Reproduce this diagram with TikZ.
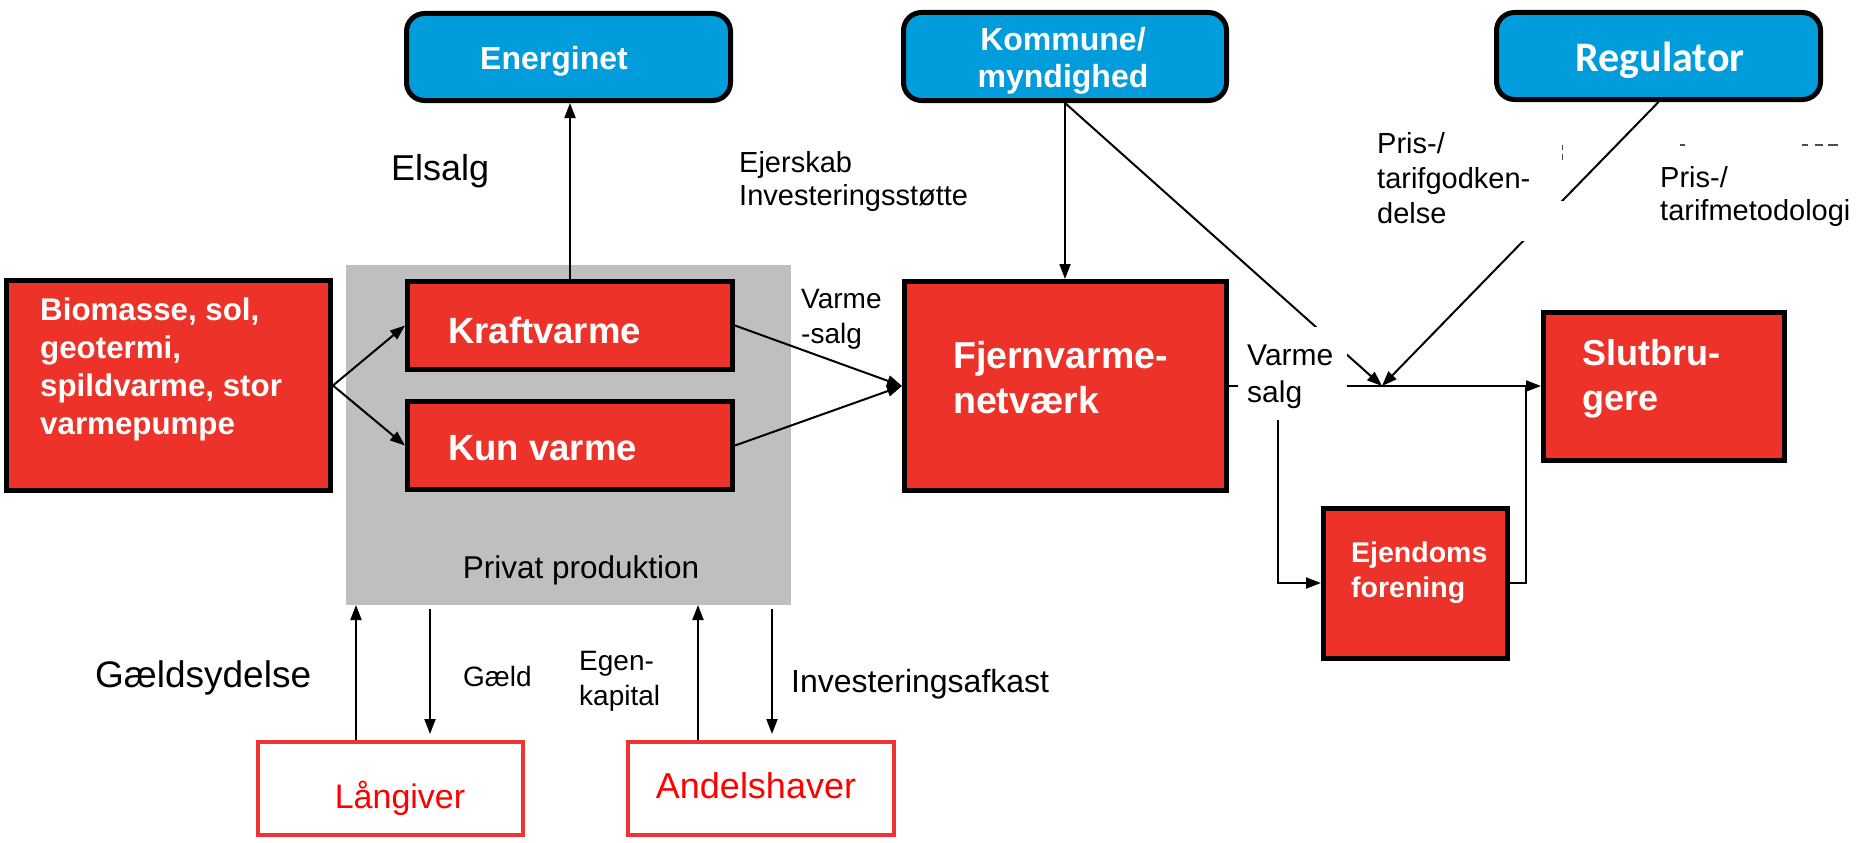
\documentclass[tikz,border=0pt]{standalone}
\usepackage{fontspec}
\setmainfont{Liberation Sans}
\newfontfamily\calib{Carlito}
\usetikzlibrary{arrows.meta}
\definecolor{boxred}{RGB}{237,50,41}
\definecolor{boxblue}{RGB}{0,156,219}
\definecolor{greybg}{RGB}{191,191,191}
\definecolor{outred}{RGB}{238,51,51}
\definecolor{txtred}{RGB}{255,0,0}
\newcommand\fsz[2]{\fontsize{#1}{#2}\selectfont}
\begin{document}
\begin{tikzpicture}[x=1pt,y=-1pt,
  redbox/.style={draw=black, line width=5pt, fill=boxred, inner sep=0pt},
  bluebox/.style={draw=black, line width=5pt, fill=boxblue, rounded corners=18pt, inner sep=0pt},
  outbox/.style={draw=outred, line width=4pt, fill=white, inner sep=0pt},
  wtxt/.style={text=white, inner sep=0pt, anchor=north west, align=left},
  btxt/.style={text=black, inner sep=0pt, anchor=north west, align=left},
  single/.style={inner sep=0pt, anchor=base west},
  conn/.style={line width=2pt, draw=black},
  arr/.style={conn, -{Triangle[length=15pt,width=11pt]}},
]
\useasboundingbox (0,0) rectangle (1864,843);

% blue boxes
\node[bluebox, minimum width=324pt, minimum height=87pt] (energinet) at (568.5,57) {};
\node[bluebox, minimum width=323pt, minimum height=88pt] (kommune) at (1065,56.5) {};
\node[bluebox, minimum width=324pt, minimum height=87pt] (regulator) at (1658.5,56) {};
\node[single, text=white, font=\bfseries\fsz{32}{38}] (energinett) at (480,70) {Energinet};
\node[inner sep=0pt, anchor=north, align=center, text=white, font=\bfseries\fsz{32}{37}] (kommunet) at (1063,24.1) {\strut Kommune/\\myndighed};
\node[inner sep=0pt, anchor=base, text=white, font=\calib\bfseries\fsz{42}{48}] (regulatort) at (1660,71) {Regulator};

% grey production area
\node[fill=greybg, minimum width=445pt, minimum height=340pt, inner sep=0pt] (privat) at (568.5,435) {};
\node[inner sep=0pt, anchor=base, font=\fsz{31.5}{36}] (privatt) at (581,578) {Privat produktion};

% red boxes
\node[redbox, minimum width=324pt, minimum height=210pt] (bio) at (168.5,385.5) {};
\node[redbox, minimum width=325pt, minimum height=88pt] (kraft) at (570,325.5) {};
\node[redbox, minimum width=325pt, minimum height=88pt] (kun) at (570,445.5) {};
\node[redbox, minimum width=322pt, minimum height=209pt] (fjern) at (1065.5,386) {};
\node[redbox, minimum width=241pt, minimum height=148pt] (slut) at (1664,386) {};
\node[redbox, minimum width=184pt, minimum height=150pt] (ejd) at (1415.5,583) {};

% outlined boxes
\node[outbox, minimum width=265pt, minimum height=93pt] (langiver) at (390.5,788.5) {};
\node[outbox, minimum width=266pt, minimum height=93pt] (andel) at (761,788.5) {};

% coordinates
\coordinate (J) at (1382,386);
\coordinate (B) at (1278,386);
\coordinate (M) at (1526,386);
\coordinate (g1) at (356,605);
\coordinate (g2a) at (430,609);
\coordinate (g2b) at (430,734);
\coordinate (g3) at (698,605);
\coordinate (g4a) at (772,609);
\coordinate (g4b) at (772,734);

% connectors
\draw[arr] (kraft.north) -- (kraft.north |- energinet.south);
\draw[arr] (bio.east) -- (kraft.west);
\draw[arr] (bio.east) -- (kun.west);
\draw[arr] (kraft.east) -- (fjern.west);
\draw[arr] (kun.east) -- (fjern.west);
\draw[arr] (kommune.south) -- (kommune.south |- fjern.north);
\draw[arr] (kommune.south) -- (J);
\draw[arr] (regulator.south) -- (J);
\draw[arr] (fjern.east) -- (slut.west);
\draw[arr] (B) |- (ejd.west);
\draw[conn] (ejd.east) -| (M);
\draw[arr] (g1 |- langiver.north) -- (g1);
\draw[arr] (g2a) -- (g2b);
\draw[arr] (g3 |- andel.north) -- (g3);
\draw[arr] (g4a) -- (g4b);

% white masks (gaps in lines)
\fill[white] (1238,327) rectangle (1347,420);
\fill[white] (1510,201) rectangle (1580,241);

% faint remnants
\draw[black!70, line width=1pt] (1562,145) -- (1562,150) (1562,154) -- (1562,160);
\draw[black!70, line width=1.2pt] (1680,145) -- (1685,145) (1802,145) -- (1808,145) (1815,145) -- (1823,145) (1828,145) -- (1838,145);

% texts in red boxes
\node[wtxt, font=\bfseries\fsz{31.3}{38}] (biot) at (40,293.4) {\strut Biomasse, sol,\\geotermi,\\spildvarme, stor\\varmepumpe};
\node[single, text=white, font=\bfseries\fsz{36.5}{42}] (kraftt) at (448,343) {Kraftvarme};
\node[single, text=white, font=\bfseries\fsz{36.5}{42}] (kunt) at (448,460) {Kun varme};
\node[wtxt, font=\bfseries\fsz{37.5}{45}] (fjernt) at (953,336.5) {\strut Fjernvarme-\\netværk};
\node[wtxt, font=\bfseries\fsz{36}{45}] (slutt) at (1582,333.5) {\strut Slutbru-\\gere};
\node[wtxt, font=\bfseries\fsz{28.5}{35}] (ejdt) at (1351,537.5) {\strut Ejendoms\\forening};

% labels
\node[single, font=\fsz{36}{42}] (elsalg) at (391,180) {Elsalg};
\node[btxt, font=\fsz{29}{33}] (ejerskab) at (739,148.9) {\strut Ejerskab\\Investeringsstøtte};
\node[btxt, font=\fsz{28}{35}] (vs1) at (801,283.5) {\strut Varme\\-salg};
\node[btxt, font=\fsz{30}{37}] (vs2) at (1247,339.1) {\strut Varme\\salg};
\node[btxt, font=\fsz{29}{35}] (pris1) at (1377,128.5) {\strut Pris-/\\tarifgodken-\\delse};
\node[btxt, font=\fsz{29}{33}] (pris2) at (1660,163.9) {\strut Pris-/\\tarifmetodologi};
\node[single, font=\fsz{37}{42}] (gaeldsyd) at (95,687) {Gældsydelse};
\node[single, font=\fsz{28}{34}] (gaeld) at (463,686) {Gæld};
\node[btxt, font=\fsz{28}{35}] (egen) at (579,645.5) {\strut Egen-\\kapital};
\node[single, font=\fsz{32}{37}] (invest) at (791,692) {Investeringsafkast};
\node[inner sep=0pt, anchor=base, text=txtred, font=\fsz{34}{40}] (langivert) at (400,808) {Långiver};
\node[inner sep=0pt, anchor=base, text=txtred, font=\fsz{36}{42}] (andelt) at (756,798) {Andelshaver};
\end{tikzpicture}
\end{document}
